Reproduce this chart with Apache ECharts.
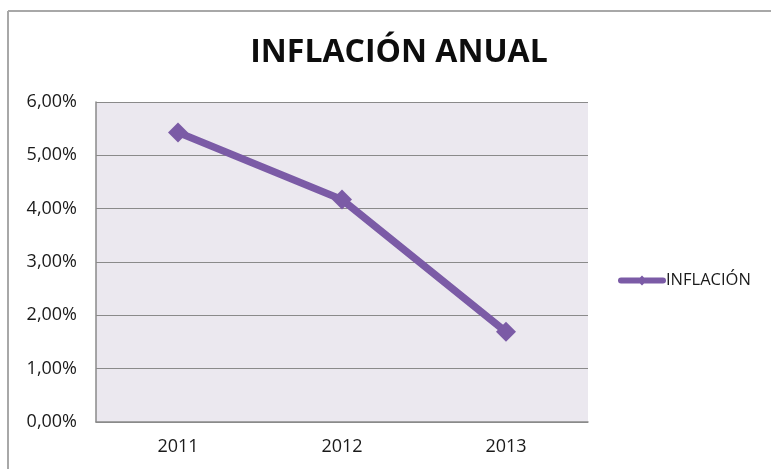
<!DOCTYPE html>
<html>
<head>
<meta charset="utf-8">
<script src="https://cdn.jsdelivr.net/npm/echarts@6/dist/echarts.min.js"></script>
<style>
html,body{margin:0;padding:0;background:#fff;}
#c{width:771px;height:469px;}
</style>
</head>
<body>
<div id="c"></div>
<script>
const categories = ['2011', '2012', '2013'];
const inflacion = [5.43, 4.17, 1.69];
const seriesName = 'INFLACIÓN';
const titleText = 'INFLACIÓN ANUAL';

const chart = echarts.init(document.getElementById('c'), null, {renderer: 'canvas'});
const font = '"Open Sans", "Liberation Sans", sans-serif';
const legendIcon = 'path://M3,2L45,2A3,3 0 0 1 45,8L3,8A3,3 0 0 1 3,2Z M24,0L29,5L24,10L19,5Z';
chart.setOption({
  animation: false,
  backgroundColor: '#fff',
  title: {
    text: titleText,
    left: 394, top: 32, textAlign: 'center',
    textStyle: {fontFamily: font, fontWeight: 'bold', fontSize: 32, color: '#0d0d0d'}
  },
  legend: {
    left: 613, top: 267,
    itemWidth: 48, itemHeight: 10, itemGap: 0,
    icon: legendIcon,
    textStyle: {fontFamily: font, fontSize: 16.5, color: '#1a1a1a', padding: [0,0,0,-5]},
    data: [{name: seriesName, itemStyle: {color: '#7B5BA6'}}]
  },
  grid: {left: 96, right: 771 - 588, top: 102, bottom: 469 - 422, containLabel: false, show: true, backgroundColor: '#EBE8EF', borderWidth: 0},
  xAxis: {
    type: 'category', data: categories, boundaryGap: true,
    axisLine: {lineStyle: {color: '#8a8a8a', width: 1.5}},
    axisTick: {show: false},
    axisLabel: {fontFamily: font, fontSize: 18, color: '#1a1a1a', margin: 16}
  },
  yAxis: {
    type: 'value', min: 0, max: 6, interval: 1,
    axisLine: {show: true, lineStyle: {color: '#8a8a8a', width: 1.5}},
    axisTick: {show: false},
    splitLine: {lineStyle: {color: '#8a8a8a', width: 1}},
    axisLabel: {fontFamily: font, fontSize: 18, color: '#1a1a1a', margin: 19,
      formatter: v => v.toFixed(2).replace('.', ',') + '%'}
  },
  series: [{
    name: seriesName, type: 'line', data: inflacion,
    lineStyle: {color: '#7B5BA6', width: 7.5},
    itemStyle: {color: '#7B5BA6'},
    symbol: 'diamond', symbolSize: 20, showSymbol: true
  }],
  graphic: [
    {type: 'line', shape: {x1: 8, y1: 11, x2: 771, y2: 11}, style: {stroke: '#a8a8a8', lineWidth: 2}},
    {type: 'line', shape: {x1: 8, y1: 11, x2: 8, y2: 469}, style: {stroke: '#a8a8a8', lineWidth: 2}}
  ]
});
</script>
</body>
</html>
